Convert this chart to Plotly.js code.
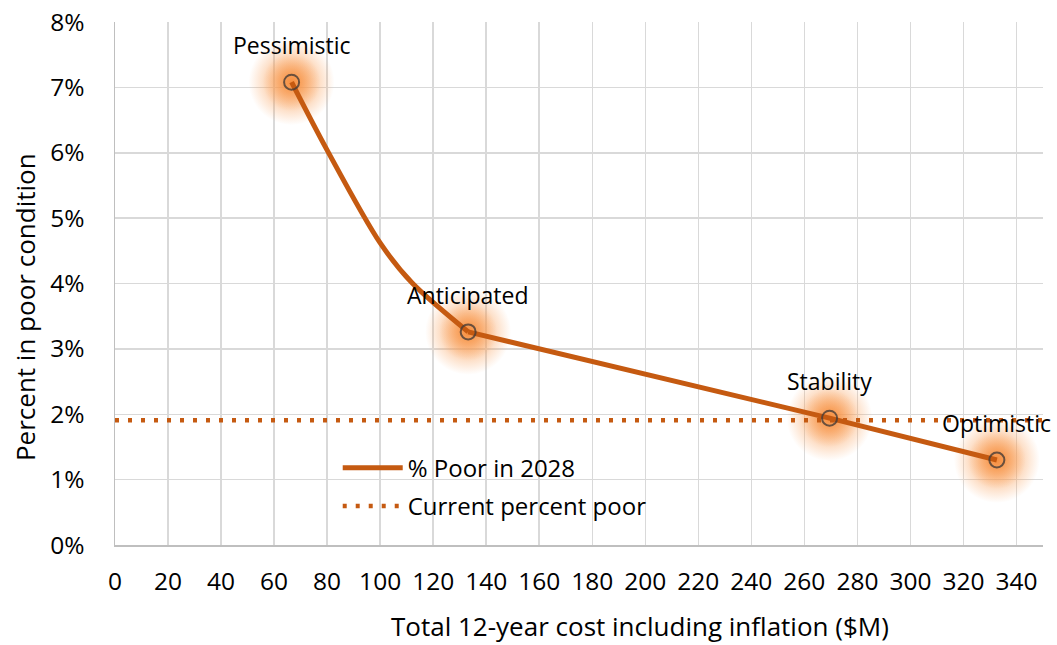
<!DOCTYPE html>
<html>
<head>
<meta charset="utf-8">
<script src="https://cdn.plot.ly/plotly-3.0.1.min.js"></script>
<style>html,body{margin:0;padding:0;background:#fff;}#chart{width:1057px;height:645px;}</style>
</head>
<body>
<div id="chart"></div>
<script>
// Data
const scenarioLabels = ["Pessimistic", "Anticipated", "Stability", "Optimistic"];
const totalCost = [66.6, 133.2, 269.5, 332.6];           // $M
const percentPoor2028 = [7.08, 3.26, 1.94, 1.30];         // %
// "% Poor in 2028" curve as drawn (curved part between Pessimistic and Anticipated)
const curveCost = [66.6, 80, 100, 112, 133.2];
const curvePoor = [7.08, 6.04, 4.62, 4.01, 3.26];
const currentPercentPoor = 1.91;                          // %
const currentLineX = [0, 350];
const xTicks = [0,20,40,60,80,100,120,140,160,180,200,220,240,260,280,300,320,340];
const yTicks = [0,1,2,3,4,5,6,7,8];
const yTickText = ["0%","1%","2%","3%","4%","5%","6%","7%","8%"];

const orange = "#C55A11";
const font = "Open Sans, sans-serif";

function halo(size, centerColor) {
  return {
    x: totalCost, y: percentPoor2028, mode: "markers", type: "scatter",
    showlegend: false, hoverinfo: "skip",
    marker: { size: size, color: "rgba(250,160,90,0)", line: {width: 0, color: "rgba(0,0,0,0)"},
      gradient: { type: "radial", color: centerColor } }
  };
}

const traces = [
  halo(86, "rgba(247,150,70,0.95)"),
  halo(58, "rgba(246,140,60,0.75)"),
  { // % poor in 2028 - curved part
    x: curveCost, y: curvePoor, mode: "lines", type: "scatter",
    name: "% Poor in 2028", legendgroup: "a", legendrank: 1,
    line: { color: orange, width: 5, shape: "spline", smoothing: 0.9 }
  },
  { // % poor in 2028 - remaining part
    x: totalCost.slice(1), y: percentPoor2028.slice(1), mode: "lines", type: "scatter",
    showlegend: false, legendgroup: "a", hoverinfo: "skip",
    line: { color: orange, width: 5 }
  },
  { // current percent poor
    x: currentLineX, y: [currentPercentPoor, currentPercentPoor],
    mode: "lines", type: "scatter", name: "Current percent poor", legendgroup: "b", legendrank: 2,
    line: { color: orange, width: 4.5, dash: "4px,9px" }
  },
  { // point markers
    x: totalCost, y: percentPoor2028, mode: "markers", type: "scatter",
    showlegend: false, hoverinfo: "skip",
    marker: { symbol: "circle-open", size: 15, color: "rgba(70,60,55,0.8)", line: {width: 2} }
  }
];

const annotations = scenarioLabels.map((t, i) => ({
  x: totalCost[i], y: percentPoor2028[i], xref: "x", yref: "y",
  text: t, showarrow: false, yshift: 37, xanchor: "center",
  font: { family: font, size: 23, color: "#000" }
}));
annotations.push({
  xref: "paper", yref: "paper", x: 0.566, xanchor: "center", y: 0, yshift: -81, yanchor: "middle",
  text: "Total 12-year cost including inflation ($M)", showarrow: false,
  font: { family: font, size: 26, color: "#000" }
});
annotations.push({
  xref: "paper", yref: "paper", x: 0, xanchor: "center", xshift: -90, y: 0.455, yanchor: "middle", textangle: -90,
  text: "Percent in poor condition", showarrow: false,
  font: { family: font, size: 26, color: "#000" }
});

const layout = {
  width: 1057, height: 645,
  margin: { l: 115, r: 14, t: 22, b: 100 },
  paper_bgcolor: "#fff", plot_bgcolor: "#fff",
  font: { family: font, size: 24, color: "#000" },
  xaxis: {
    range: [0, 350], tickmode: "array", tickvals: xTicks, ticks: "", ticklabelstandoff: 14,
    showgrid: true, gridcolor: "#d9d9d9", gridwidth: 1.5,
    showline: true, linecolor: "#bfbfbf", linewidth: 1.5, zeroline: false,
    tickfont: { family: font, size: 24.5 }
  },
  yaxis: {
    range: [0, 8], tickmode: "array", tickvals: yTicks, ticktext: yTickText, ticks: "", ticklabelstandoff: 24,
    showgrid: true, gridcolor: "#d9d9d9", gridwidth: 1.5,
    showline: true, linecolor: "#bfbfbf", linewidth: 1.5, zeroline: false,
    tickfont: { family: font, size: 24.5 }
  },
  showlegend: true,
  legend: {
    x: 0.24, y: 0.19, xanchor: "left", yanchor: "top",
    bgcolor: "rgba(0,0,0,0)", traceorder: "grouped", tracegroupgap: 4,
    font: { family: font, size: 24 }, itemwidth: 60
  },
  annotations: annotations
};

Plotly.newPlot("chart", traces, layout, { displayModeBar: false, staticPlot: true });
</script>
</body>
</html>
